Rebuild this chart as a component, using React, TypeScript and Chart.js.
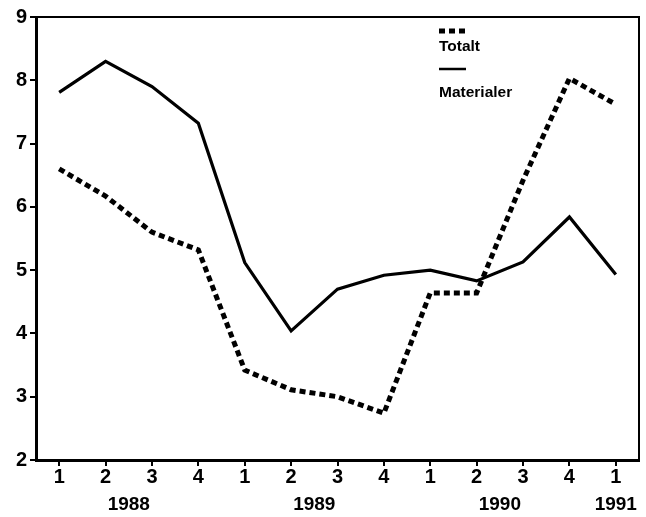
import React, { useEffect, useRef } from "react";
import { Chart, registerables } from "chart.js";

Chart.register(...registerables);

const quarterLabels = ["1", "2", "3", "4", "1", "2", "3", "4", "1", "2", "3", "4", "1"];
const totaltValues = [6.6, 6.17, 5.6, 5.32, 3.42, 3.11, 3.0, 2.74, 4.64, 4.64, 6.42, 8.03, 7.62];
const materialerValues = [7.81, 8.3, 7.9, 7.32, 5.12, 4.04, 4.7, 4.92, 5.0, 4.83, 5.13, 5.84, 4.93];
const yearLabels = ["1988", "1989", "1990", "1991"];
const yearPositions = [1.5, 5.5, 9.5, 12];
const yTicks = [2, 3, 4, 5, 6, 7, 8, 9];

const FONT = "'Liberation Sans', Arial, Helvetica, sans-serif";

export default function App() {
  const ref = useRef<HTMLCanvasElement | null>(null);

  useEffect(() => {
    document.body.style.margin = "0";
    const canvas = ref.current;
    if (!canvas) return;

    const overlay = {
      id: "overlay",
      afterDraw(chart: any) {
        const ctx = chart.ctx;
        const area = chart.chartArea;
        const xs = chart.scales.x;
        ctx.save();
        // frame top & right
        ctx.strokeStyle = "#000";
        ctx.lineWidth = 2;
        ctx.beginPath();
        ctx.moveTo(area.left, area.top);
        ctx.lineTo(area.right, area.top);
        ctx.lineTo(area.right, area.bottom);
        ctx.stroke();
        // year labels
        ctx.fillStyle = "#000";
        ctx.font = `bold 19px ${FONT}`;
        ctx.textAlign = "center";
        ctx.textBaseline = "middle";
        yearLabels.forEach((label, i) => {
          ctx.fillText(label, xs.getPixelForValue(yearPositions[i]), 505);
        });
        // legend
        const lx = 439;
        ctx.lineWidth = 5;
        ctx.setLineDash([6, 4]);
        ctx.beginPath();
        ctx.moveTo(lx, 31);
        ctx.lineTo(lx + 27, 31);
        ctx.stroke();
        ctx.setLineDash([]);
        ctx.lineWidth = 2.5;
        ctx.beginPath();
        ctx.moveTo(lx, 69);
        ctx.lineTo(lx + 27, 69);
        ctx.stroke();
        ctx.font = `bold 15.5px ${FONT}`;
        ctx.textAlign = "left";
        ctx.fillText("Totalt", lx, 47);
        ctx.fillText("Materialer", lx, 93);
        ctx.restore();
      },
    };

    const chart = new Chart(canvas, {
      type: "line",
      data: {
        labels: quarterLabels,
        datasets: [
          {
            label: "Totalt",
            data: totaltValues,
            borderColor: "#000",
            borderWidth: 5,
            borderDash: [6, 4],
            pointRadius: 0,
            tension: 0,
            fill: false,
          },
          {
            label: "Materialer",
            data: materialerValues,
            borderColor: "#000",
            borderWidth: 3.2,
            pointRadius: 0,
            tension: 0,
            fill: false,
          },
        ],
      },
      options: {
        animation: false,
        responsive: false,
        maintainAspectRatio: false,
        layout: { padding: { top: 17, right: 7, left: 0, bottom: 0 } },
        plugins: { legend: { display: false }, tooltip: { enabled: false } },
        scales: {
          x: {
            offset: true,
            grid: {
              offset: false,
              drawOnChartArea: false,
              drawTicks: true,
              tickLength: 6,
              color: "#000",
              lineWidth: 2,
            },
            border: { color: "#000", width: 3 },
            ticks: {
              color: "#000",
              font: { family: FONT, size: 20, weight: "bold", lineHeight: 1 },
              padding: 1,
              maxRotation: 0,
              autoSkip: false,
            },
            afterFit: (s: any) => {
              s.height = 57;
            },
          },
          y: {
            min: 2,
            max: 9,
            afterBuildTicks: (s: any) => {
              s.ticks = yTicks.map((v) => ({ value: v }));
            },
            grid: {
              drawOnChartArea: false,
              drawTicks: true,
              tickLength: 6,
              color: "#000",
              lineWidth: 2,
            },
            border: { color: "#000", width: 3 },
            ticks: {
              color: "#000",
              font: { family: FONT, size: 20, weight: "bold", lineHeight: 1 },
              padding: 3,
            },
            afterFit: (s: any) => {
              s.width = 36;
            },
          },
        },
      },
      plugins: [overlay],
    });

    return () => chart.destroy();
  }, []);

  return (
    <div style={{ position: "fixed", left: 0, top: 0, width: 646, height: 517, background: "#fff" }}>
      <canvas ref={ref} width={646} height={517} style={{ width: 646, height: 517 }} />
    </div>
  );
}
